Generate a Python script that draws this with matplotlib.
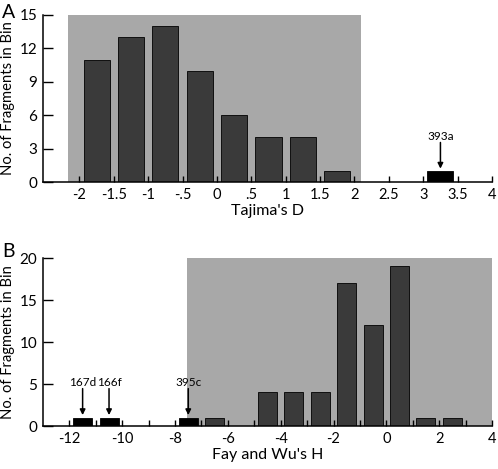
import matplotlib
matplotlib.use("Agg")
import matplotlib.pyplot as plt
from matplotlib.patches import Rectangle

plt.rcParams['font.family'] = ['Lato', 'DejaVu Sans']

# ---- Panel A: Tajima's D ----
taj_centers = [-1.75, -1.25, -0.75, -0.25, 0.25, 0.75, 1.25, 1.75]
taj_counts = [11, 13, 14, 10, 6, 4, 4, 1]
taj_out_centers = [3.25]
taj_out_counts = [1]
taj_out_labels = ['393a']
taj_region = (-2.17, 2.09)
taj_xticks = [-2, -1.5, -1, -0.5, 0, 0.5, 1, 1.5, 2, 2.5, 3, 3.5, 4]
taj_xticklabels = ['-2', '-1.5', '-1', '-.5', '0', '.5', '1', '1.5', '2', '2.5', '3', '3.5', '4']
taj_yticks = [0, 3, 6, 9, 12, 15]

# ---- Panel B: Fay and Wu's H ----
fw_centers = [-6.5, -4.5, -3.5, -2.5, -1.5, -0.5, 0.5, 1.5, 2.5]
fw_counts = [1, 4, 4, 4, 17, 12, 19, 1, 1]
fw_out_centers = [-11.5, -10.5, -7.5]
fw_out_counts = [1, 1, 1]
fw_out_labels = ['167d', '166f', '395c']
fw_region = (-7.53, 4.0)
fw_xticks = list(range(-12, 5))
fw_xticklabels = [str(t) if t % 2 == 0 else '' for t in fw_xticks]
fw_yticks = [0, 5, 10, 15, 20]

GRAY = '#a8a8a8'
DARK = '#3a3a3a'

fig = plt.figure(figsize=(4.98, 4.69), dpi=100)
axA = fig.add_axes([43/498, 1-182/469, 449/498, 167/469])
axB = fig.add_axes([43/498, 1-426/469, 449/498, 168/469])


def style(ax, xlim, ylim, xticks, xticklabels, yticks, xlabel):
    ax.set_xlim(*xlim)
    ax.set_ylim(*ylim)
    for s in ['top', 'right']:
        ax.spines[s].set_visible(False)
    for s in ['left', 'bottom']:
        ax.spines[s].set_linewidth(1.1)
    ax.set_xticks(xticks)
    ax.set_xticklabels(xticklabels)
    ax.set_yticks(yticks)
    ax.tick_params(axis='x', direction='in', length=4, width=1, labelsize=10.5, pad=4)
    ax.tick_params(axis='y', direction='in', length=7.5, width=1, labelsize=11, pad=4)
    ax.set_xlabel(xlabel, fontsize=11.5, labelpad=2)
    ax.set_ylabel('No. of Fragments in Bin', fontsize=10.6)
    ax.yaxis.set_label_coords(-28/449, 0.5)


def annotate(ax, xs, ys, labels, ytext, ystart, yend):
    for x, y, lab in zip(xs, ys, labels):
        ax.annotate('', xy=(x, y + yend), xytext=(x, ystart),
                    arrowprops=dict(arrowstyle='-|>', color='black', lw=1.1,
                                    mutation_scale=8, shrinkA=0, shrinkB=0))
        ax.text(x, ytext, lab, ha='center', va='center', fontsize=8.5)


# Panel A
axA.add_patch(Rectangle((taj_region[0], 0), taj_region[1]-taj_region[0], 15,
                        facecolor=GRAY, edgecolor='none', zorder=0))
axA.bar(taj_centers, taj_counts, width=0.38, color=DARK, edgecolor='black', linewidth=0.6, zorder=2)
axA.bar(taj_out_centers, taj_out_counts, width=0.38, color='black', edgecolor='black', linewidth=0.6, zorder=2)
style(axA, (-2.53, 4.0), (0, 15), taj_xticks, taj_xticklabels, taj_yticks, "Tajima's D")
annotate(axA, taj_out_centers, taj_out_counts, taj_out_labels, 4.1, 3.55, 0.2)

# Panel B
axB.add_patch(Rectangle((fw_region[0], 0), fw_region[1]-fw_region[0], 20,
                        facecolor=GRAY, edgecolor='none', zorder=0))
axB.bar(fw_centers, fw_counts, width=0.72, color=DARK, edgecolor='black', linewidth=0.6, zorder=2)
axB.bar(fw_out_centers, fw_out_counts, width=0.72, color='black', edgecolor='black', linewidth=0.6, zorder=2)
style(axB, (-13.0, 4.0), (0, 20), fw_xticks, fw_xticklabels, fw_yticks, "Fay and Wu's H")
annotate(axB, fw_out_centers, fw_out_counts, fw_out_labels, 5.15, 4.45, 0.3)

fig.text(9/498, 1-12/469, 'A', fontsize=14, ha='center', va='center')
fig.text(8/498, 1-251/469, 'B', fontsize=14, ha='center', va='center')

fig.savefig('out.png', dpi=100)
